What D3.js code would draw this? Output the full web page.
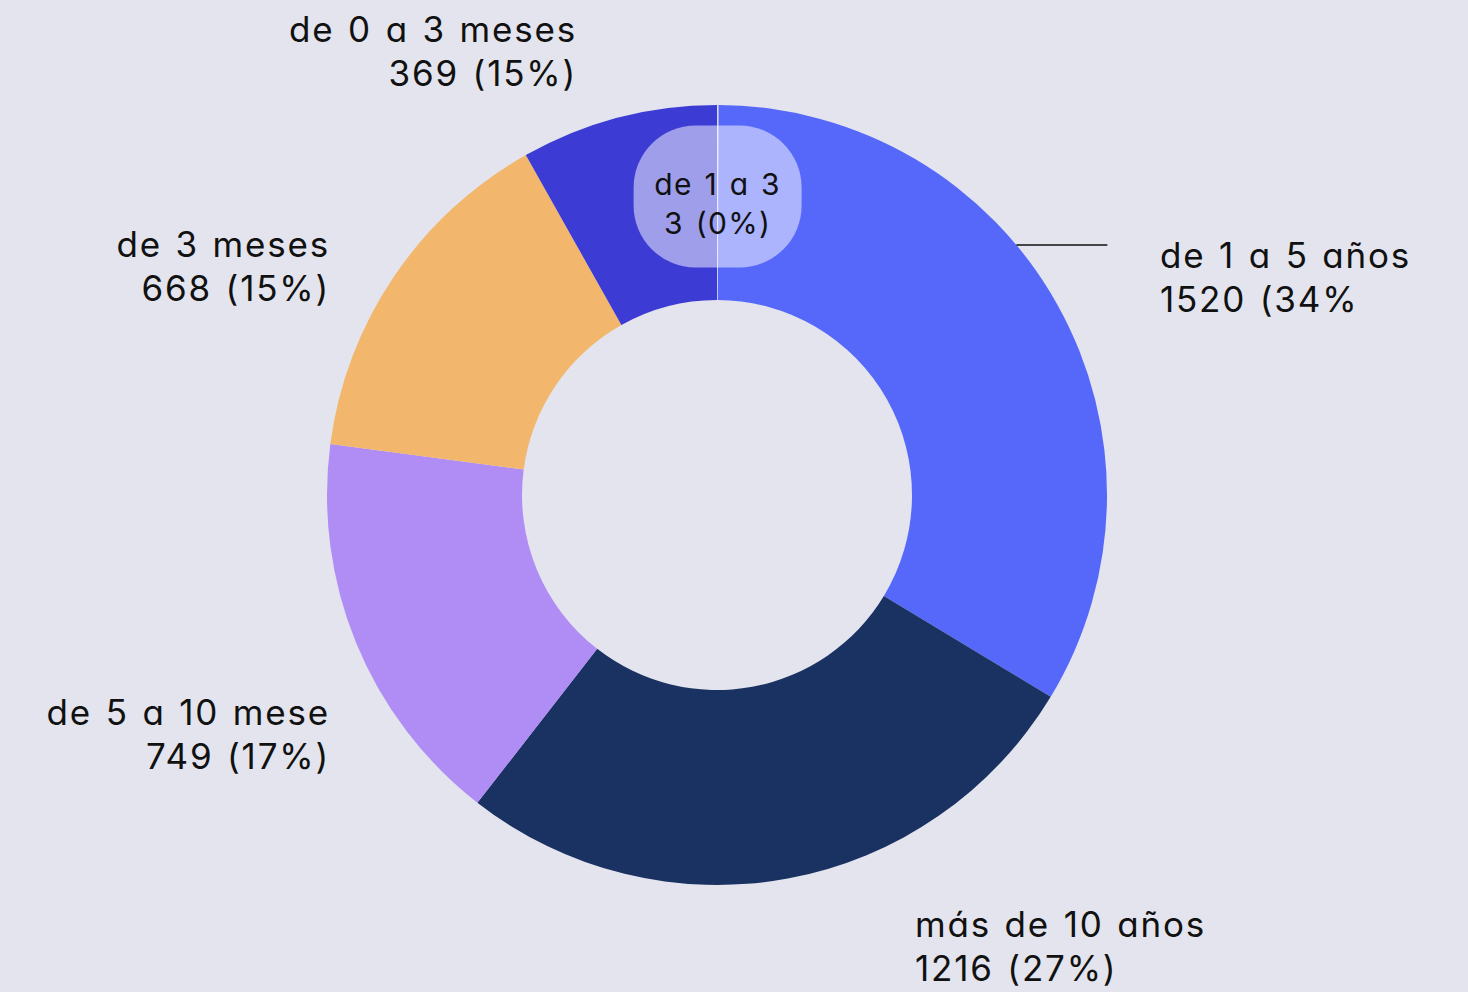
<!DOCTYPE html>
<html>
<head>
<meta charset="utf-8">
<script src="https://cdn.jsdelivr.net/npm/d3@7"></script>
<style>
  html, body { margin: 0; padding: 0; background: #e3e4ed; }
  svg text {
    font-family: Inter, 'Noto Sans', sans-serif;
    font-feature-settings: 'cv11' 1;
    fill: #111;
  }
</style>
</head>
<body>
<svg width="1468" height="992"></svg>
<script>
// slices, clockwise from 12 o'clock
const categories = ['de 1 a 3', 'de 1 a 5 años', 'más de 10 años', 'de 5 a 10 mese', 'de 3 meses', 'de 0 a 3 meses'];
const values = [3, 1520, 1216, 749, 668, 369];
const valueLabels = ['3 (0%)', '1520 (34%', '1216 (27%)', '749 (17%)', '668 (15%)', '369 (15%)'];
const colors = ['#d6d9f6', '#5668fa', '#1a3262', '#b08df4', '#f2b76c', '#3c3cd5'];

// label placement relative to the centre (x, y of first baseline, anchor)
const labelLayout = [
  null,
  { x: 443, y: -227, anchor: 'start' },
  { x: 198, y: 442, anchor: 'start' },
  { x: -387, y: 230, anchor: 'end' },
  { x: -387, y: -238, anchor: 'end' },
  { x: -140, y: -453, anchor: 'end' }
];

const cx = 717, cy = 495, outerR = 390, innerR = 195;
const lineGap = 44;

const svg = d3.select('svg');
const g = svg.append('g').attr('transform', `translate(${cx}, ${cy})`);

const pie = d3.pie().sort(null).value(d => d.value);
const arcs = pie(values.map((v, i) => ({ value: v, name: categories[i], label: valueLabels[i], color: colors[i] })));
const arc = d3.arc().innerRadius(innerR).outerRadius(outerR);

g.selectAll('path.slice')
  .data(arcs)
  .enter()
  .append('path')
  .attr('class', 'slice')
  .attr('d', arc)
  .attr('fill', d => d.data.color)
  .attr('stroke', (d, i) => i === 0 ? d.data.color : 'none')
  .attr('stroke-width', 1.2);

// leader line for the big slice
const leaderY = -250;
const leaderX0 = Math.sqrt(outerR * outerR - leaderY * leaderY);
g.append('line')
  .attr('x1', leaderX0)
  .attr('x2', leaderX0 + 91)
  .attr('y1', leaderY)
  .attr('y2', leaderY)
  .attr('stroke', '#111')
  .attr('stroke-width', 1.3);

// outside labels
arcs.forEach((d, i) => {
  const pos = labelLayout[i];
  if (!pos) return;
  const t = g.append('text')
    .attr('text-anchor', pos.anchor)
    .style('font-size', '35px')
    .style('letter-spacing', '1.8px')
    .style('word-spacing', '2px');
  t.append('tspan').attr('x', pos.x).attr('y', pos.y).text(d.data.name);
  t.append('tspan').attr('x', pos.x).attr('y', pos.y + lineGap).text(d.data.label);
});

// bubble label for the tiny slice
const tiny = arcs[0];
const c = d3.arc().innerRadius(innerR).outerRadius(outerR).centroid(tiny);
const bw = 168, bh = 142;
const bubble = g.append('g').attr('transform', `translate(${c[0]}, ${c[1] - 6})`);
bubble.append('rect')
  .attr('x', -bw / 2)
  .attr('y', -bh / 2)
  .attr('width', bw)
  .attr('height', bh)
  .attr('rx', 62)
  .attr('ry', 62)
  .attr('fill', '#ffffff')
  .attr('fill-opacity', 0.5);
const bt = bubble.append('text')
  .attr('text-anchor', 'middle')
  .style('font-size', '30px')
  .style('letter-spacing', '1.3px')
  .style('word-spacing', '2px');
bt.append('tspan').attr('x', 0).attr('y', -2).text(tiny.data.name);
bt.append('tspan').attr('x', 0).attr('y', 37).text(tiny.data.label);
</script>
</body>
</html>
